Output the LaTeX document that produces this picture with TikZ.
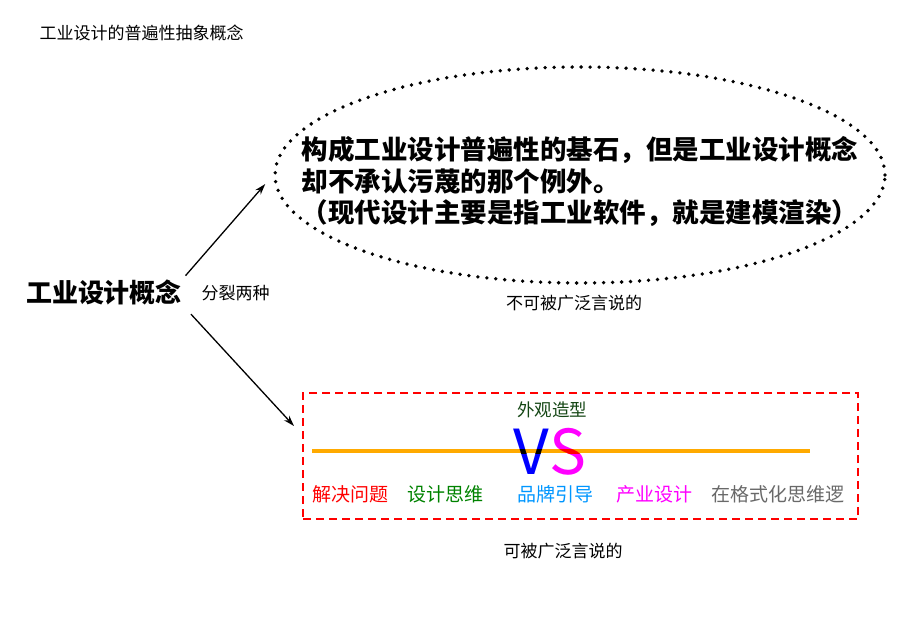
\documentclass[tikz,border=0pt]{standalone}
\usepackage{fontspec}
\setmainfont{Noto Sans CJK SC}
\usepackage{tikz}
\usetikzlibrary{shapes,arrows,arrows.meta,positioning}
\definecolor{leafgreen}{RGB}{20,70,20}
\definecolor{thinkgreen}{RGB}{0,130,0}
\definecolor{brandblue}{RGB}{0,150,255}
\definecolor{linegold}{RGB}{255,170,0}
\definecolor{logicgray}{RGB}{105,105,105}
\definecolor{vblue}{RGB}{0,0,255}
\definecolor{smagenta}{RGB}{255,0,255}

\begin{document}
\begin{tikzpicture}[x=1pt,y=-1pt,
  arr/.style={-{Stealth[length=11pt,width=7pt]},line width=1.3pt},
  small/.style={font=\fontsize{17}{19}\selectfont},
  tag/.style={font=\fontsize{19}{21}\selectfont},
  big/.style={anchor=base,inner sep=0pt,font=\fontsize{62}{66}\selectfont},
  oval/.style={ellipse,draw,line width=3.8pt,line cap=round,dash pattern=on 0pt off 9pt,minimum width=610pt,minimum height=216pt,inner sep=0pt},
  frame/.style={draw=red,line width=2pt,dash pattern=on 8pt off 5pt,minimum width=555pt,minimum height=126pt,inner sep=0pt}]
  \useasboundingbox (0,0) rectangle (900,636);
  \node[small,anchor=west] (title) at (36,33) {工业设计的普遍性抽象概念};
  \node[font=\bfseries\fontsize{26}{28}\selectfont,inner sep=2pt] (concept) at (104,292) {工业设计概念};
  \node[small,anchor=west] (split) at (198,293) {分裂两种};
  \node[oval] (oval) at (580,175) {};
  \node[font=\bfseries\fontsize{26.5}{31.5}\selectfont,align=left] (claim) at (580,182) {构成工业设计普遍性的基石，但是工业设计概念\\却不承认污蔑的那个例外。\\（现代设计主要是指工业软件，就是建模渲染）};
  \node[small] (unsay) at (574,303) {不可被广泛言说的};
  \node[frame] (box) at (580.5,456) {};
  \node[font=\fontsize{17.5}{20}\selectfont,text=leafgreen] (look) at (552,410) {外观造型};
  \node[big] (vs) at (550,474.5) {\textcolor{vblue}{V}\textcolor{smagenta}{S}};
  \draw[linegold,line width=4pt] (312,451.3) -- (810,451.3);
  \begin{scope}
    \clip (vs.west |- 0,449.3) rectangle (vs.east |- 0,453.3);
    \node[big] (vsdark) at (550,474.5) {\textcolor{black}{V}\textcolor{red}{S}};
  \end{scope}
  \node[tag,text=red] (solve) at (350,494) {解决问题};
  \node[tag,text=thinkgreen] (think) at (445,494) {设计思维};
  \node[tag,text=brandblue] (brand) at (555,494) {品牌引导};
  \node[tag,text=smagenta] (industry) at (654,494) {产业设计};
  \node[tag,text=logicgray] (logic) at (778,494) {在格式化思维逻};
  \node[small] (say) at (563,551) {可被广泛言说的};
  \coordinate (boxin) at (294,426);
  \draw[arr,shorten <=2pt,shorten >=12pt] (concept.north east) -- (oval.west);
  \draw[arr,shorten <=10pt] (concept.south east) -- (boxin);
\end{tikzpicture}
\end{document}
